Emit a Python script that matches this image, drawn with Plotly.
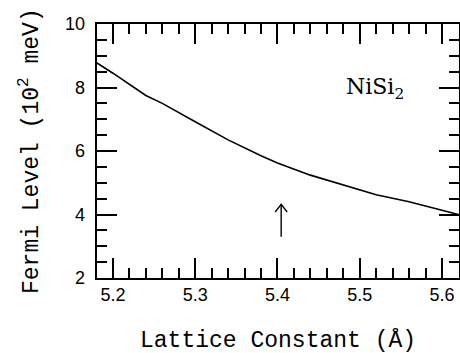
import plotly.graph_objects as go

# Data
lattice_constant = [5.18, 5.20, 5.24, 5.26, 5.30, 5.34, 5.38, 5.40, 5.44, 5.48, 5.52, 5.56, 5.60, 5.62]
fermi_level = [8.78, 8.45, 7.75, 7.50, 6.92, 6.35, 5.85, 5.62, 5.24, 4.93, 4.62, 4.40, 4.14, 4.00]

x_range = [5.1806, 5.6207]
y_range = [2, 10]
x_tick_start, x_tick_step, x_minor_step = 5.2, 0.1, 0.02
y_tick_start, y_tick_step, y_minor_step = 2, 2, 0.5

x_title = "Lattice Constant (Å)"
y_title = "Fermi Level (10<sup>2</sup> meV)"

# Arrow marking equilibrium lattice constant
arrow_x = 5.4045
arrow_y0 = 3.30
arrow_y1 = 4.32
head_dx = 0.0073
head_dy = 0.24

label_text = "NiSi<sub>2</sub>"
label_x = 5.518
label_y = 7.98

mono = "Liberation Mono"

fig = go.Figure()
fig.add_trace(go.Scatter(x=lattice_constant, y=fermi_level, mode="lines",
                         line=dict(color="black", width=1.6), showlegend=False,
                         hoverinfo="skip"))
fig.add_trace(go.Scatter(
    x=[arrow_x, arrow_x, None, arrow_x - head_dx, arrow_x, arrow_x + head_dx],
    y=[arrow_y0, arrow_y1, None, arrow_y1 - head_dy, arrow_y1, arrow_y1 - head_dy],
    mode="lines", line=dict(color="black", width=1.4), showlegend=False,
    hoverinfo="skip"))

fig.add_annotation(x=label_x, y=label_y, text=label_text, showarrow=False,
                   font=dict(family="DejaVu Serif", size=22, color="black"))

# Axis titles as annotations
fig.add_annotation(xref="paper", yref="paper", x=0.5, y=-0.245, text=x_title,
                   showarrow=False, xanchor="center", yanchor="middle",
                   font=dict(family=mono, size=23, color="black"))
fig.add_annotation(xref="paper", yref="paper", x=-0.185, y=0.5, text=y_title,
                   showarrow=False, xanchor="center", yanchor="middle", textangle=-90,
                   font=dict(family=mono, size=23, color="black"))

fig.update_xaxes(range=x_range, tick0=x_tick_start, dtick=x_tick_step, tickformat=".1f",
                 showline=True, linecolor="black", linewidth=1.6, mirror="ticks",
                 ticks="inside", ticklen=20, tickwidth=1.5, tickcolor="black",
                 gridcolor="white", automargin=False,
                 tickfont=dict(family="Liberation Sans", size=18, color="black"),
                 minor=dict(dtick=x_minor_step, tick0=x_tick_start, ticks="inside",
                            ticklen=10, tickwidth=1.5, tickcolor="black"))
fig.update_yaxes(range=y_range, tick0=y_tick_start, dtick=y_tick_step,
                 ticksuffix=" \u200a",
                 showline=True, linecolor="black", linewidth=1.6, mirror="ticks",
                 ticks="inside", ticklen=20, tickwidth=1.5, tickcolor="black",
                 gridcolor="white", automargin=False,
                 tickfont=dict(family="Liberation Sans", size=18, color="black"),
                 minor=dict(dtick=y_minor_step, tick0=y_tick_start, ticks="inside",
                            ticklen=10, tickwidth=1.5, tickcolor="black"))

fig.update_layout(width=460, height=353, margin=dict(l=97, r=1, t=24, b=75),
                  paper_bgcolor="white", plot_bgcolor="white")

fig.write_html("out.html")
